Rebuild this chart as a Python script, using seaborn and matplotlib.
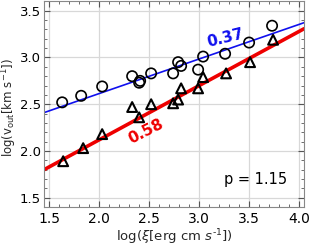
import numpy as np
import matplotlib
matplotlib.use("Agg")
import matplotlib.pyplot as plt
import seaborn as sns
from matplotlib.ticker import MultipleLocator


# =========================
# Data
# =========================

circle_x = [1.63, 1.82, 2.03, 2.33, 2.40, 2.41, 2.52, 2.74, 2.79, 2.82,
            2.99, 3.04, 3.26, 3.50, 3.73]
circle_y = [2.52, 2.59, 2.69, 2.80, 2.73, 2.75, 2.83, 2.83, 2.95, 2.91,
            2.87, 3.01, 3.04, 3.16, 3.34]

tri_x = [1.64, 1.84, 2.03, 2.33, 2.40, 2.52, 2.74, 2.79, 2.82, 2.99,
         3.04, 3.27, 3.51, 3.74]
tri_y = [1.89, 2.03, 2.18, 2.47, 2.36, 2.50, 2.51, 2.55, 2.67, 2.67,
         2.79, 2.83, 2.95, 3.19]

blue_slope = 0.37
blue_icpt = 1.874
red_slope = 0.58
red_icpt = 0.959

x_lim = (1.45, 4.05)
y_lim = (1.40, 3.61)


# =========================
# Plot
# =========================

sns.set_style("ticks")

fig = plt.figure(figsize=(3.09, 2.5), dpi=100)
ax = fig.add_axes([0.143, 0.172, 0.841, 0.826])

line_x = np.array(x_lim)

sns.lineplot(x=line_x, y=blue_icpt + blue_slope * line_x,
             color="#1010ee", lw=1.2, ax=ax)
sns.lineplot(x=line_x, y=red_icpt + red_slope * line_x,
             color="#ee0000", lw=2.6, ax=ax)

sns.scatterplot(x=circle_x, y=circle_y, marker="o", s=55,
                facecolor="none", edgecolor="black", linewidth=1.2,
                ax=ax, zorder=3)
sns.scatterplot(x=tri_x, y=tri_y, marker="^", s=50,
                facecolor="none", edgecolor="black", linewidth=1.5,
                ax=ax, zorder=3)

ax.text(3.26, 3.21, "0.37", color="#1010ee", fontsize=11,
        fontweight="bold", rotation=14, ha="center", va="center")
ax.text(2.47, 2.21, "0.58", color="#ee0000", fontsize=11,
        fontweight="bold", rotation=27, ha="center", va="center")
ax.text(3.56, 1.69, "p = 1.15", color="black", fontsize=10.5,
        ha="center", va="center")

ax.set_xlim(*x_lim)
ax.set_ylim(*y_lim)

ax.xaxis.set_major_locator(MultipleLocator(0.5))
ax.xaxis.set_minor_locator(MultipleLocator(0.1))
ax.yaxis.set_major_locator(MultipleLocator(0.5))
ax.yaxis.set_minor_locator(MultipleLocator(0.1))

ax.grid(True, which="major", color="#d8d8d8", lw=0.9)
ax.set_axisbelow(True)

ax.tick_params(which="both", direction="in", top=True, right=True,
               colors="#555555", labelcolor="black", labelsize=10)
ax.tick_params(axis="y", labelsize=9.5, pad=2.5)
ax.tick_params(which="major", length=4, width=0.8)
ax.tick_params(which="minor", length=2, width=0.6)

for s in ax.spines.values():
    s.set_color("#888888")
    s.set_linewidth(0.8)

ax.set_xlabel(r"log($\xi$[erg cm $s^{\text{-}1}$])", fontsize=9.5,
              labelpad=1)
ax.set_ylabel(r"log(v$_\mathrm{out}$[km s$^\mathrm{-1}$])", fontsize=8.5)
ax.yaxis.set_label_coords(-0.098, 0.48)

plt.savefig("out.png", dpi=100)
